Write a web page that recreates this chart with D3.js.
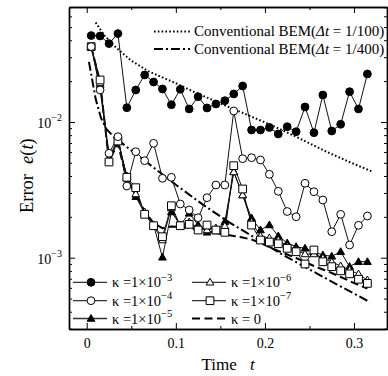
<!DOCTYPE html>
<html>
<head>
<meta charset="utf-8">
<script src="https://cdn.jsdelivr.net/npm/d3@7/dist/d3.min.js"></script>
<style>
body { margin: 0; background: #fff }
text { font-family: "Liberation Serif", "Times New Roman", serif; fill: #000 }
</style>
</head>
<body>
<svg id="chart" width="388" height="376"></svg>
<script>
// time grid of the kappa runs
var tGrid = [0.005, 0.015, 0.025, 0.035, 0.045, 0.055, 0.065, 0.075, 0.085, 0.095,
             0.105, 0.115, 0.125, 0.135, 0.145, 0.155, 0.165, 0.175, 0.185, 0.195,
             0.205, 0.215, 0.225, 0.235, 0.245, 0.255, 0.265, 0.275, 0.285, 0.295,
             0.305, 0.315]

var errK3 = [0.0433, 0.0430, 0.0378, 0.0448, 0.01274, 0.0172, 0.0222, 0.0197, 0.0175, 0.0134,
             0.01741, 0.01247, 0.01536, 0.01268, 0.01357, 0.01435, 0.01608, 0.01841, 0.00873, 0.00873,
             0.00911, 0.00816, 0.00923, 0.00848, 0.0129, 0.00834, 0.01581, 0.00858, 0.00962, 0.01672,
             0.01247, 0.02258]
var errK4 = [0.0359, 0.01721, 0.005878, 0.007793, 0.003375, 0.00604, 0.005186, 0.006966, 0.003846, 0.003912,
             0.002487, 0.002246, 0.001971, 0.002768, 0.003434, 0.003434, 0.01205, 0.005365, 0.005455, 0.005248,
             0.004117, 0.003085, 0.00219, 0.002004, 0.003535, 0.003064, 0.002662, 0.001554, 0.002088, 0.001241,
             0.001733, 0.002029]
var errK5 = [0.0359, 0.01874, 0.005401, 0.007585, 0.003847, 0.002815, 0.002124, 0.001742, 0.001007, 0.002172,
             0.001742, 0.002124, 0.001742, 0.001539, 0.001573, 0.001842, 0.004302, 0.002897, 0.001961, 0.0016,
             0.001742, 0.001445, 0.001283, 0.001205, 0.001173, 0.001102, 0.001047, 0.001024, 0.001107, 0.000861,
             0.000934, 0.000934]
var errK6 = [0.0359, 0.01938, 0.005248, 0.007368, 0.004, 0.002947, 0.002172, 0.001712, 0.00135, 0.002324,
             0.001712, 0.001833, 0.001655, 0.0016, 0.001655, 0.001712, 0.00428, 0.002897, 0.001833, 0.001445,
             0.001397, 0.00135, 0.001219, 0.00114, 0.001065, 0.001065, 0.000995, 0.00093, 0.000869, 0.000811,
             0.000758, 0.000685]
var errK7 = [0.0359, 0.02039, 0.005073, 0.00724, 0.003912, 0.00328, 0.002089, 0.001721, 0.001428, 0.002415,
             0.001721, 0.001762, 0.0016, 0.001741, 0.0016, 0.001539, 0.004764, 0.003208, 0.001741, 0.00135,
             0.001305, 0.001268, 0.001173, 0.001107, 0.000899, 0.00114, 0.000934, 0.000859, 0.000801, 0.000761,
             0.000694, 0.000647]
var errK0 = [0.0359, 0.01971, 0.005150, 0.006900, 0.003800, 0.002950, 0.002200, 0.001800, 0.001650, 0.001700,
             0.001690, 0.00166, 0.001614, 0.00156, 0.001521, 0.001483, 0.001445, 0.001409, 0.001362, 0.001283,
             0.001199, 0.001121, 0.001056, 0.000995, 0.00093, 0.000869, 0.000819, 0.000772, 0.000721, 0.000674,
             0.00063, 0.000593]

// conventional BEM references
var conv100T = [0.01, 0.02, 0.03, 0.04, 0.05, 0.07, 0.10, 0.12, 0.15, 0.18, 0.21, 0.24, 0.27, 0.30, 0.321]
var conv100E = [0.054, 0.0433, 0.0368, 0.0322, 0.0283, 0.0235, 0.0193, 0.0167, 0.0137, 0.0113, 0.0093, 0.0075, 0.0060, 0.0049, 0.0043]
var conv400T = [0.0025, 0.01, 0.016, 0.022, 0.03, 0.05, 0.07, 0.10, 0.13, 0.16, 0.19, 0.22, 0.25, 0.28, 0.318]
var conv400E = [0.0277, 0.0148, 0.0107, 0.00888, 0.00782, 0.00617, 0.0049, 0.00345, 0.00247, 0.00182, 0.00139, 0.00105, 0.00082, 0.00064, 0.00047]

var xTicks = [0, 0.1, 0.2, 0.3]
var xMinorTicks = [0.05, 0.15, 0.25]
var yTicks = [1e-3, 1e-2]
var yTickExp = ['\u22123', '\u22122']

// plot frame (window.top is read-only, so no bare `top` here)
var frameL = 69
,   frameR = 387
,   frameT = 7
,   frameB = 329

var svg = d3.select('#chart')

var x = d3.scaleLinear().domain([-0.0199, 0.337]).range([frameL, frameR])
var y = d3.scaleLog().domain([2.985e-4, 0.0703]).range([frameB, frameT])

var yMinor = y.ticks().filter((v) => yTicks.indexOf(v) < 0 && Math.abs(Math.log10(v) - Math.round(Math.log10(v))) > 1e-6)

// ---- axes (ticks point inwards on all four sides)
function styleAxis(g) {
  g.selectAll('path.domain').attr('stroke', '#000').attr('stroke-width', 1.4)
  g.selectAll('.tick line').attr('stroke', '#000').attr('stroke-width', 1)
  g.selectAll('.tick text').style('font-family', '"Liberation Serif", serif').style('font-size', '14px').attr('fill', '#000')
}

function addAxis(axis, tx, ty) {
  svg.append('g')
    .attr('transform', 'translate(' + tx + ',' + ty + ')')
    .call(axis)
    .call(styleAxis)
}

addAxis(d3.axisBottom(x).tickValues(xTicks).tickSize(-6).tickSizeOuter(0).tickPadding(9)
  .tickFormat((d) => d === 0 ? '0' : d3.format('.1f')(d)), 0, frameB)
addAxis(d3.axisBottom(x).tickValues(xMinorTicks).tickSize(-3).tickSizeOuter(0).tickFormat(''), 0, frameB)
addAxis(d3.axisTop(x).tickValues(xTicks).tickSize(-6).tickSizeOuter(0).tickFormat(''), 0, frameT)
addAxis(d3.axisTop(x).tickValues(xMinorTicks).tickSize(-3).tickSizeOuter(0).tickFormat(''), 0, frameT)
addAxis(d3.axisLeft(y).tickValues(yTicks).tickSize(-6).tickSizeOuter(0).tickFormat(''), frameL, 0)
addAxis(d3.axisLeft(y).tickValues(yMinor).tickSize(-3).tickSizeOuter(0).tickFormat(''), frameL, 0)
addAxis(d3.axisRight(y).tickValues(yTicks).tickSize(-6).tickSizeOuter(0).tickFormat(''), frameR, 0)
addAxis(d3.axisRight(y).tickValues(yMinor).tickSize(-3).tickSizeOuter(0).tickFormat(''), frameR, 0)

// y tick labels as 10^-n
yTicks.forEach(function(v, i) {
  var t = svg.append('text')
    .attr('x', frameL - 7)
    .attr('y', y(v) + 6)
    .attr('text-anchor', 'end')
    .style('font-size', '14px')
  t.append('tspan').text('10')
  t.append('tspan').attr('dy', -7).style('font-size', '10px').text(yTickExp[i])
})

// ---- axis titles
svg.append('text')
  .attr('x', 201.5)
  .attr('y', 370)
  .style('font-size', '17px')
  .text('Time')
svg.append('text')
  .attr('x', 250)
  .attr('y', 370)
  .style('font-size', '17px')
  .style('font-style', 'italic')
  .text('t')

var yTitle = svg.append('text')
  .attr('transform', 'translate(33,213) rotate(-90)')
  .style('font-size', '18.5px')
yTitle.append('tspan').text('Error')
yTitle.append('tspan').attr('dx', 10).style('font-style', 'italic').text('e')
yTitle.append('tspan').text('(')
yTitle.append('tspan').style('font-style', 'italic').text('t')
yTitle.append('tspan').text(')')

// ---- data lines
var line = d3.line().x((d) => x(d[0])).y((d) => y(d[1]))
var plot = svg.append('g')

function pairs(ts, es) { return ts.map((t, i) => [t, es[i]]) }

var series = [
  {key: 'k5', data: pairs(tGrid, errK5), shape: 'triFill'}
, {key: 'k6', data: pairs(tGrid, errK6), shape: 'triOpen'}
, {key: 'k7', data: pairs(tGrid, errK7), shape: 'square'}
, {key: 'k4', data: pairs(tGrid, errK4), shape: 'circOpen'}
, {key: 'k3', data: pairs(tGrid, errK3), shape: 'circFill'}
]

plot.append('path')
  .attr('d', line(pairs(conv100T, conv100E)))
  .attr('fill', 'none').attr('stroke', '#000').attr('stroke-width', 2)
  .attr('stroke-dasharray', '1.6,2.2')

plot.append('path')
  .attr('d', line(pairs(conv400T, conv400E)))
  .attr('fill', 'none').attr('stroke', '#000').attr('stroke-width', 2)
  .attr('stroke-dasharray', '9,3,2,3')

plot.append('path')
  .attr('d', line(pairs(tGrid, errK0)))
  .attr('fill', 'none').attr('stroke', '#000').attr('stroke-width', 2)
  .attr('stroke-dasharray', '8,4')

series.forEach(function(s) {
  plot.append('path')
    .attr('d', line(s.data))
    .attr('fill', 'none').attr('stroke', '#111').attr('stroke-width', 1)
})

var triPath = d3.symbol(d3.symbolTriangle, 26)()
var sqPath = d3.symbol(d3.symbolSquare, 60)()

function drawMarker(g, shape, cx, cy) {
  if (shape === 'circFill' || shape === 'circOpen') {
    g.append('circle').attr('cx', cx).attr('cy', cy).attr('r', 3.9)
      .attr('fill', shape === 'circFill' ? '#000' : '#fff').attr('stroke', '#000').attr('stroke-width', 1)
  } else if (shape === 'square') {
    g.append('path').attr('d', sqPath).attr('transform', 'translate(' + cx + ',' + cy + ')')
      .attr('fill', '#fff').attr('stroke', '#000').attr('stroke-width', 1)
  } else {
    g.append('path').attr('d', triPath).attr('transform', 'translate(' + cx + ',' + (cy + 0.5) + ')')
      .attr('fill', shape === 'triFill' ? '#000' : '#fff').attr('stroke', '#000').attr('stroke-width', 1)
  }
}

series.forEach(function(s) {
  var g = plot.append('g').attr('class', 'markers-' + s.key)
  s.data.forEach((d) => drawMarker(g, s.shape, x(d[0]), y(d[1])))
})

// ---- legend, top right
var legTop = [
  {label: '1/100', dash: '1.6,2.2', yy: 31.5}
, {label: '1/400', dash: '9,3,2,3', yy: 49}
]
legTop.forEach(function(l) {
  svg.append('line')
    .attr('x1', 154).attr('x2', 190).attr('y1', l.yy).attr('y2', l.yy)
    .attr('stroke', '#000').attr('stroke-width', 2).attr('stroke-dasharray', l.dash)
  var t = svg.append('text').attr('x', 194).attr('y', l.yy + 4.5).style('font-size', '15px')
  t.append('tspan').text('Conventional BEM(')
  t.append('tspan').style('font-style', 'italic').text('\u0394t')
  t.append('tspan').text(' = ' + l.label + ')')
})

// ---- legend, bottom left
var legBottom = [
  {shape: 'circFill', exp: '\u22123', col: 0, row: 0}
, {shape: 'circOpen', exp: '\u22124', col: 0, row: 1}
, {shape: 'triFill', exp: '\u22125', col: 0, row: 2}
, {shape: 'triOpen', exp: '\u22126', col: 1, row: 0}
, {shape: 'square', exp: '\u22127', col: 1, row: 1}
, {shape: 'dash', exp: null, col: 1, row: 2}
]
var legRows = [282.3, 300.7, 318.5]
var legCols = [73, 192]

legBottom.forEach(function(l) {
  var lx = legCols[l.col]
  ,   ly = legRows[l.row]
  var ln = svg.append('line')
    .attr('x1', lx).attr('x2', lx + 34).attr('y1', ly).attr('y2', ly)
    .attr('stroke', '#333')
  if (l.shape === 'dash') {
    ln.attr('stroke', '#000').attr('stroke-width', 2).attr('stroke-dasharray', '8,4.5')
  } else {
    ln.attr('stroke-width', 1.3)
    drawMarker(svg, l.shape, lx + 18, ly)
  }
  var t = svg.append('text').attr('x', lx + 39).attr('y', ly + 5).style('font-size', '14.5px')
  t.append('tspan').text('\u03ba =')
  if (l.exp) {
    t.append('tspan').text('1\u00d710')
    t.append('tspan').attr('dy', -6.5).style('font-size', '10.5px').text(l.exp)
  } else {
    t.append('tspan').text(' 0')
  }
})
</script>
</body>
</html>
